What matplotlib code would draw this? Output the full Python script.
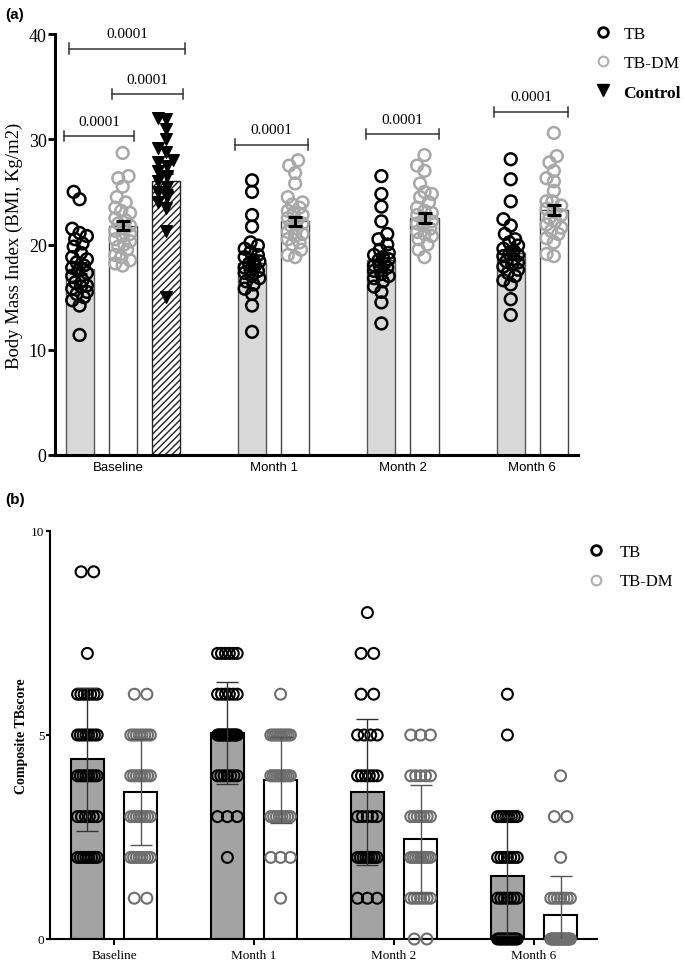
import matplotlib
matplotlib.use('Agg')
import matplotlib.pyplot as plt
from matplotlib.lines import Line2D
import numpy as np

serif = 'Liberation Serif'
sans = 'Liberation Sans'

# ---------------- panel (a): BMI ----------------
a_groups = ['Baseline', 'Month 1', 'Month 2', 'Month 6']
a_tb_mean = [17.7, 18.2, 18.5, 19.2]
a_tbdm_mean = [21.8, 22.2, 22.5, 23.3]
a_ctrl_mean = 26.0
a_tb_sem = [0.55, 0.55, 0.55, 0.55]
a_tbdm_sem = [0.45, 0.45, 0.5, 0.5]
a_ctrl_sem = 0.8

a_tb_pts = [
    [25.0, 24.3, 21.5, 21.1, 20.8, 20.5, 20.1, 19.8, 19.2, 18.8, 18.6, 18.3, 18.0, 17.8, 17.5,
     17.3, 17.0, 16.6, 16.4, 16.1, 15.8, 15.5, 15.3, 14.7, 14.2, 11.4, 16.0, 15.0],
    [26.1, 25.0, 22.8, 21.7, 20.2, 19.9, 19.6, 19.3, 19.0, 18.8, 18.5, 18.2, 18.0, 17.8, 17.5,
     17.3, 17.0, 16.8, 16.5, 16.2, 15.8, 15.3, 14.2, 11.7, 18.4, 17.6],
    [26.5, 24.8, 23.6, 22.2, 21.0, 20.5, 20.0, 19.5, 19.2, 19.0, 18.8, 18.5, 18.2, 18.0, 17.8,
     17.5, 17.2, 17.0, 16.8, 16.5, 16.0, 15.5, 14.5, 12.5, 18.6, 17.9],
    [28.1, 26.2, 24.1, 22.4, 21.8, 21.0, 20.5, 20.2, 19.9, 19.6, 19.4, 19.1, 18.9, 18.6, 18.4,
     18.1, 17.9, 17.6, 17.3, 17.0, 16.6, 16.2, 14.8, 13.3, 19.0, 18.3],
]
a_tbdm_pts = [
    [28.7, 26.5, 26.3, 25.5, 24.5, 24.0, 23.5, 23.2, 23.0, 22.5, 22.3, 22.0, 21.8, 21.5, 21.3,
     21.0, 20.8, 20.5, 20.3, 20.0, 19.8, 19.5, 19.0, 18.8, 18.5, 18.2, 18.0],
    [28.0, 27.5, 26.8, 25.8, 24.5, 24.0, 23.8, 23.5, 23.2, 23.0, 22.8, 22.5, 22.2, 22.0, 21.8,
     21.5, 21.2, 21.0, 20.8, 20.5, 20.2, 20.0, 19.5, 19.0, 18.8],
    [28.5, 27.5, 27.0, 25.8, 25.0, 24.8, 24.5, 24.0, 23.5, 23.2, 23.0, 22.8, 22.5, 22.2, 22.0,
     21.8, 21.5, 21.2, 21.0, 20.8, 20.5, 20.0, 19.5, 18.8],
    [30.6, 28.4, 27.8, 27.0, 26.3, 26.0, 25.1, 24.1, 24.1, 23.7, 23.4, 23.1, 22.8, 22.5, 22.2,
     21.9, 21.6, 21.3, 21.0, 20.6, 20.2, 19.1, 18.9],
]
a_ctrl_pts = [32.0, 31.9, 31.0, 30.0, 29.2, 28.8, 28.0, 27.8, 27.5, 27.0, 26.5, 26.0, 25.5,
              25.0, 24.5, 24.0, 23.5, 21.3, 15.0]

# significance brackets: x-start, x-end (bar units), y, label
a_brackets = [(-0.24, 2.44, 38.6, '0.0001'),
              (0.75, 2.39, 34.3, '0.0001'),
              (-0.36, 1.26, 30.3, '0.0001'),
              (3.61, 5.30, 29.5, '0.0001'),
              (6.64, 8.33, 30.5, '0.0001'),
              (9.62, 11.32, 32.6, '0.0001')]

# ---------------- panel (b): TB score ----------------
b_groups = ['Baseline', 'Month 1', 'Month 2', 'Month 6']
b_scores = [0, 1, 2, 3, 4, 5, 6, 7, 8, 9]
b_tb_counts = [
    [0, 0, 8, 6, 8, 8, 7, 1, 0, 2],
    [0, 0, 1, 3, 7, 14, 6, 6, 0, 0],
    [0, 3, 8, 5, 6, 4, 2, 2, 1, 0],
    [12, 7, 7, 8, 0, 1, 1, 0, 0, 0],
]
b_tbdm_counts = [
    [0, 2, 8, 8, 8, 8, 2, 0, 0, 0],
    [0, 1, 3, 8, 10, 10, 1, 0, 0, 0],
    [2, 7, 9, 7, 5, 3, 0, 0, 0, 0],
    [20, 7, 1, 2, 1, 0, 0, 0, 0, 0],
]
b_tb_mean = [4.4, 5.05, 3.6, 1.55]
b_tbdm_mean = [3.6, 3.9, 2.45, 0.6]
b_tb_sd = [1.75, 1.25, 1.78, 1.45]
b_tbdm_sd = [1.3, 1.05, 1.33, 0.95]


def swarm(vals, xc, sx, sy, half, dmin=0.75):
    vals = np.asarray(vals, float)
    xs = np.zeros(len(vals))
    placed = []
    cands = np.linspace(-half, half, 11)
    cands = cands[np.argsort(np.abs(cands), kind='stable')]
    for i in np.argsort(vals):
        y = vals[i]
        best, bestd = 0.0, -1.0
        for c in cands:
            if placed:
                d = min(np.hypot((c - px) / sx, (y - py) / sy) for px, py in placed)
            else:
                d = 99.0
            if d >= dmin:
                best = c
                break
            if d > bestd:
                best, bestd = c, d
        placed.append((best, y))
        xs[i] = xc + best
    return xs


fig = plt.figure(figsize=(6.85, 9.62), dpi=100)

# ---- (a) ----
ax = fig.add_axes([55 / 685, 1 - 456 / 962, (578 - 55) / 685, (456 - 35) / 962])
tb_x = [0, 4, 7, 10]
tbdm_x = [1, 5, 8, 11]
ctrl_x = 2
w = 0.65

ax.bar(tb_x, a_tb_mean, width=w, color='#d9d9d9', edgecolor='#555555', linewidth=1, zorder=1)
ax.bar(tbdm_x, a_tbdm_mean, width=w, color='white', edgecolor='#444444', linewidth=1, zorder=1)
ax.bar(ctrl_x, a_ctrl_mean, width=w, color='white', edgecolor='#222222', linewidth=1,
       hatch='/////', zorder=1)

sx, sy = 0.28, 1.15
for i in range(4):
    xs = swarm(a_tb_pts[i], tb_x[i], sx, sy, 0.17)
    ax.scatter(xs, a_tb_pts[i], s=72, facecolors='none', edgecolors='black', linewidths=1.8, zorder=3)
    xs = swarm(a_tbdm_pts[i], tbdm_x[i], sx, sy, 0.17)
    ax.scatter(xs, a_tbdm_pts[i], s=72, facecolors='none', edgecolors='#a8a8a8', linewidths=1.8, zorder=3)
xs = swarm(a_ctrl_pts, ctrl_x, sx, sy, 0.17)
ax.scatter(xs, a_ctrl_pts, s=70, marker='v', color='black', zorder=3)

ax.errorbar(tb_x, a_tb_mean, yerr=a_tb_sem, fmt='none', ecolor='black', elinewidth=2.2,
            capsize=5, capthick=2.2, zorder=4)
ax.errorbar(tbdm_x, a_tbdm_mean, yerr=a_tbdm_sem, fmt='none', ecolor='black', elinewidth=2.2,
            capsize=5, capthick=2.2, zorder=4)
ax.errorbar([ctrl_x], [a_ctrl_mean], yerr=[a_ctrl_sem], fmt='none', ecolor='black', elinewidth=2.2,
            capsize=5, capthick=2.2, zorder=4)

for x1, x2, y, lab in a_brackets:
    ax.plot([x1, x2], [y, y], color='#333333', lw=1.1, clip_on=False)
    ax.plot([x1, x1], [y - 0.5, y + 0.5], color='#333333', lw=1.1, clip_on=False)
    ax.plot([x2, x2], [y - 0.5, y + 0.5], color='#333333', lw=1.1, clip_on=False)
    ax.text((x1 + x2) / 2, y + 0.8, lab, ha='center', va='bottom', family=serif, fontsize=11)

ax.set_xlim(-0.57, 11.56)
ax.set_ylim(0, 40)
ax.set_yticks([0, 10, 20, 30, 40])
ax.set_xticks([0.9, 4.5, 7.5, 10.5])
ax.set_xticklabels(a_groups, family=sans, fontsize=9.5)
for t in ax.get_yticklabels():
    t.set_family(serif)
    t.set_fontsize(13)
ax.tick_params(axis='x', length=0, pad=4)
ax.tick_params(axis='y', length=5, width=2, pad=1)
for s in ['top', 'right']:
    ax.spines[s].set_visible(False)
for s in ['left', 'bottom']:
    ax.spines[s].set_linewidth(2.2)
ax.set_ylabel('Body Mass Index (BMI, Kg/m2)', family=serif, fontsize=13.5, labelpad=4)

h_a = [Line2D([], [], marker='o', ls='none', mfc='none', mec='black', mew=2, ms=7),
       Line2D([], [], marker='o', ls='none', mfc='none', mec='#b0b0b0', mew=1.5, ms=7),
       Line2D([], [], marker='v', ls='none', color='black', ms=8)]
leg = fig.legend(h_a, ['TB', 'TB-DM', 'Control'], loc='upper left',
                 bbox_to_anchor=(594 / 685, 1 - 27 / 962), frameon=False,
                 prop={'family': serif, 'size': 12.5}, handlelength=1, handletextpad=0.7,
                 labelspacing=0.75, borderaxespad=0, borderpad=0)
leg.get_texts()[2].set_fontweight('bold')

# ---- (b) ----
bx = fig.add_axes([50 / 685, 1 - 940 / 962, (597 - 50) / 685, (940 - 532) / 962])
g = np.arange(4)
off = 0.19
bw = 0.235
bx.bar(g - off, b_tb_mean, width=bw, color='#a3a3a3', edgecolor='black', linewidth=1.5, zorder=1)
bx.bar(g + off, b_tbdm_mean, width=bw, color='white', edgecolor='black', linewidth=1.5, zorder=1)

for i in range(4):
    for counts, xc, col in [(b_tb_counts[i], g[i] - off, 'black'),
                            (b_tbdm_counts[i], g[i] + off, '#6e6e6e')]:
        for sc, n in zip(b_scores, counts):
            if n == 0:
                continue
            span = min((n - 1) * 0.09, 0.14)
            xs = xc + np.linspace(-span / 2, span / 2, n)
            bx.scatter(xs, [sc] * n, s=62, facecolors='none', edgecolors=col, linewidths=1.5,
                       zorder=3, clip_on=False)

bx.errorbar(g - off, b_tb_mean, yerr=b_tb_sd, fmt='none', ecolor='#333333', elinewidth=1,
            capsize=8, capthick=1, zorder=4)
bx.errorbar(g + off, b_tbdm_mean, yerr=b_tbdm_sd, fmt='none', ecolor='#555555', elinewidth=1,
            capsize=8, capthick=1, zorder=4)

bx.set_xlim(-0.457, 3.45)
bx.set_ylim(0, 10)
bx.set_yticks([0, 5, 10])
bx.set_xticks(g)
bx.set_xticklabels(b_groups, family=serif, fontsize=9.5)
for t in bx.get_yticklabels():
    t.set_family(serif)
    t.set_fontsize(9.5)
bx.tick_params(axis='x', length=4, width=1.5, pad=3)
bx.tick_params(axis='y', length=3, width=1.5, pad=1)
for s in ['top', 'right']:
    bx.spines[s].set_visible(False)
for s in ['left', 'bottom']:
    bx.spines[s].set_linewidth(1.5)
bx.set_ylabel('Composite TBscore', family=serif, fontsize=10, fontweight='bold', labelpad=2)

h_b = [Line2D([], [], marker='o', ls='none', mfc='none', mec='black', mew=2, ms=7),
       Line2D([], [], marker='o', ls='none', mfc='none', mec='#b0b0b0', mew=1.5, ms=7)]
fig.legend(h_b, ['TB', 'TB-DM'], loc='upper left', bbox_to_anchor=(588 / 685, 1 - 545 / 962),
           frameon=False, prop={'family': serif, 'size': 12}, handlelength=1, handletextpad=0.9,
           labelspacing=0.8, borderaxespad=0, borderpad=0)

fig.text(0.008, 0.992, '(a)', family=sans, fontweight='bold', fontsize=11, va='top')
fig.text(0.008, 1 - 493 / 962, '(b)', family=sans, fontweight='bold', fontsize=11, va='top')

fig.savefig('out.png', dpi=100)
